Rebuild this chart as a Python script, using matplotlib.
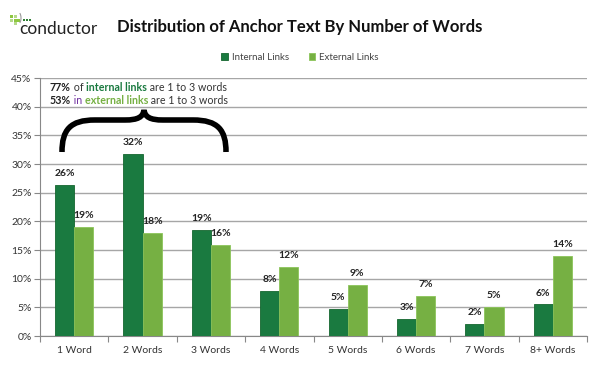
import matplotlib
matplotlib.use("Agg")
import matplotlib.pyplot as plt
from matplotlib.path import Path
from matplotlib.patches import PathPatch, Rectangle, Arc
import numpy as np

categories = ["1 Word", "2 Words", "3 Words", "4 Words", "5 Words", "6 Words", "7 Words", "8+ Words"]
internal = [26.3, 31.8, 18.5, 7.8, 4.7, 3.0, 2.1, 5.5]
external = [19.0, 18.0, 15.9, 12.0, 8.9, 7.0, 5.0, 13.9]
internal_labels = ["26%", "32%", "19%", "8%", "5%", "3%", "2%", "6%"]
external_labels = ["19%", "18%", "16%", "12%", "9%", "7%", "5%", "14%"]
yticks = [0, 5, 10, 15, 20, 25, 30, 35, 40, 45]

C_INT = "#1a7a40"
C_EXT = "#76b043"
FONT = ["Lato", "DejaVu Sans"]
plt.rcParams["font.family"] = FONT

fig = plt.figure(figsize=(6, 3.66), dpi=100)
ax = fig.add_axes([40/600, 30/366, 547/600, 258/366])

x = np.arange(len(categories))
w = 0.28
b1 = ax.bar(x - w/2, internal, w, color=C_INT, edgecolor="#15662f", linewidth=0.6, label="Internal Links", zorder=3)
b2 = ax.bar(x + w/2, external, w, color=C_EXT, edgecolor="#8cc45a", linewidth=0.6, label="External Links", zorder=3)
for xi, v, s in zip(x, internal, internal_labels):
    ax.text(xi - w/2, v + 1.2, s, ha="center", va="bottom", fontsize=7.5, fontweight="bold", color="#222222")
for xi, v, s in zip(x, external, external_labels):
    ax.text(xi + w/2, v + 1.2, s, ha="center", va="bottom", fontsize=7.5, fontweight="bold", color="#222222")

ax.set_xlim(-0.5, len(categories) - 0.5)
ax.set_ylim(0, 45)
ax.set_yticks(yticks)
ax.set_yticklabels([f"{t}%" for t in yticks], fontsize=7.5, color="#333333")
ax.yaxis.grid(True, color="#a6a6a6", linewidth=1, zorder=0)
ax.set_axisbelow(True)
ax.set_xticks(np.arange(-0.5, len(categories), 1.0))
ax.set_xticklabels([])
ax.set_xticks(x, minor=True)
ax.set_xticklabels(categories, minor=True, fontsize=7.5, color="#333333")
ax.tick_params(axis="x", which="major", length=4, color="#888888", direction="out")
ax.tick_params(axis="x", which="minor", length=0, pad=7)
ax.tick_params(axis="y", length=4, color="#888888", direction="out", pad=2)
for s in ["top", "right"]:
    ax.spines[s].set_visible(False)
ax.spines["left"].set_color("#888888")
ax.spines["bottom"].set_color("#888888")

# legend
leg = fig.legend(handles=[b1, b2], loc="center", bbox_to_anchor=(300/600, 1 - 57/366), ncol=2,
                 frameon=False, fontsize=7, handlelength=0.7, handleheight=0.7, columnspacing=2.0,
                 handletextpad=0.4, labelcolor="#444444")

# overlay in pixel coordinates
ov = fig.add_axes([0, 0, 1, 1], zorder=10)
ov.set_xlim(0, 600)
ov.set_ylim(366, 0)
ov.axis("off")
ov.patch.set_alpha(0)

# title
ov.text(300, 27, "Distribution of Anchor Text By Number of Words", ha="center", va="center",
        fontsize=12, fontweight="bold", color="#111111")

# logo
for (lx, ly, c) in [(10, 15, "#8dc63f"), (13.5, 15, "#b5d98a"), (10, 18.5, "#b5d98a"), (13.5, 18.5, "#8dc63f"),
                    (17, 18.5, "#8dc63f"), (13.5, 22, "#b5d98a")]:
    ov.add_patch(Rectangle((lx, ly), 3, 3, color=c, lw=0))
for lx in (23, 26, 29):
    ov.add_patch(Rectangle((lx, 18.5), 2.2, 2.2, color="#2e7d32", lw=0))
ov.add_patch(Arc((18, 18), 6, 12, theta1=-70, theta2=70, color="#999999", lw=0.8))
ov.text(19, 29, "conductor", ha="left", va="center", fontsize=12.5, color="#222222")

# annotation text
def colored_line(y, parts):
    t = ov.text(50, y, parts[0][0], ha="left", va="baseline", fontsize=7.7,
                color=parts[0][1], fontweight=parts[0][2])
    for s, c, fw in parts[1:]:
        t = ov.annotate(s, xy=(1, 0), xycoords=t, ha="left", va="bottom", fontsize=7.7,
                        color=c, fontweight=fw)
    return t

colored_line(91, [("77%", "#222222", "bold"), (" of ", "#333333", "normal"),
                  ("internal links", "#1a7a40", "bold"), (" are 1 to 3 words", "#333333", "normal")])
colored_line(104, [("53%", "#222222", "bold"), (" in ", "#7030a0", "normal"),
                   ("external links", "#76b043", "bold"), (" are 1 to 3 words", "#333333", "normal")])

# brace
verts = [(62, 152), (62, 130), (70, 120), (95, 120),
         (125, 120), (138, 120), (143, 117), (144, 110),
         (145, 117), (150, 120), (163, 120),
         (193, 120), (218, 120), (226, 130), (226, 152)]
codes = [Path.MOVETO, Path.CURVE4, Path.CURVE4, Path.CURVE4,
         Path.LINETO, Path.CURVE4, Path.CURVE4, Path.CURVE4,
         Path.CURVE4, Path.CURVE4, Path.CURVE4,
         Path.LINETO, Path.CURVE4, Path.CURVE4, Path.CURVE4]
ov.add_patch(PathPatch(Path(verts, codes), facecolor="none", edgecolor="black", lw=4, capstyle="butt"))

fig.savefig("out.png", dpi=100, facecolor="white")
